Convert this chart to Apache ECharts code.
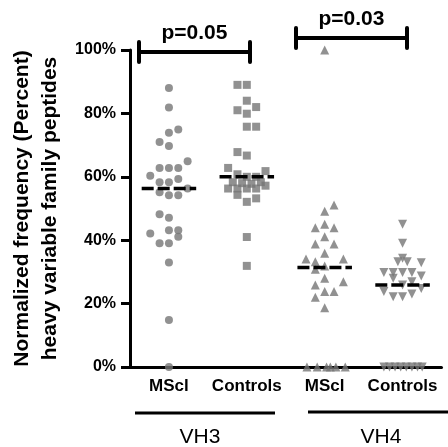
<!DOCTYPE html>
<html>
<head>
<meta charset="utf-8">
<script src="https://cdn.jsdelivr.net/npm/echarts@6/dist/echarts.min.js"></script>
<style>
  html, body { margin: 0; padding: 0; background: #fff; }
  #chart { width: 448px; height: 447px; }
</style>
</head>
<body>
<div id="chart"></div>
<script>
// x categories and the two families under them
const categories = ["MScl", "Controls", "MScl", "Controls"];
const families = ["VH3", "VH4"];
const pLabels = ["p=0.05", "p=0.03"];

// each point: [column in the swarm, percent]
const vh3MScl = [
  [0, 88.0], [0, 81.9], [0, 73.9], [1, 74.9], [-1, 71.0], [0, 69.7], [2, 64.9],
  [-1, 62.8], [0, 62.8], [1, 62.8], [-2, 60.3], [1, 59.3], [-1, 58.3], [0, 58.3],
  [-1, 55.1], [0, 54.2], [1, 54.2], [2, 56.3], [-1, 48.2], [0, 47.1], [-2, 42.1],
  [0, 43.1], [1, 43.1], [1, 41.1], [-1, 39.0], [0, 39.0], [0, 33.0], [0, 14.8], [0, 0]
];
const vh3Controls = [
  [-1, 89.0], [0, 89.0], [0, 84.0], [1, 82.0], [-1, 81.0], [0, 79.9], [0, 75.8], [1, 75.8],
  [-1, 67.8], [0, 66.7], [-2, 62.8], [2, 61.8], [-1, 60.8], [0, 60.0], [1, 60.0],
  [-1.5, 58.3], [-0.5, 58.0], [0.5, 57.8], [1.5, 58.3], [2, 57.2], [-2, 56.3], [-1, 56.3],
  [0, 56.3], [1, 56.3], [-1, 54.3], [1, 53.2], [0, 52.1], [0, 41.0], [0, 31.9]
];
const vh4MScl = [
  [0, 100], [1, 51.1], [0, 49.1], [-1, 43.9], [0, 45.0], [1, 43.9], [0, 41.1], [-1, 38.8],
  [1, 38.8], [0, 35.9], [-2, 34.1], [-1, 33.2], [2, 34.1], [0, 31.9], [-1, 30.8], [0, 28.0],
  [2, 26.9], [-1, 25.9], [0, 23.8], [1, 23.8], [-1, 22.0], [0, 18.7],
  [-1.9, 0], [-0.8, 0], [0.2, 0], [0.6, 0], [1.2, 0], [2.2, 0]
];
const vh4Controls = [
  [0, 45.0], [0, 39.0], [0, 34.3], [-0.5, 33.2], [0.5, 33.2], [2, 32.9], [-2, 29.8], [-1, 29.8],
  [0, 29.8], [1, 29.8], [2, 28.7], [-1, 28.0], [1, 26.9], [0, 25.9], [2, 24.8], [-2, 23.8],
  [-1, 22.2], [0, 22.2], [1, 23.0],
  [-2, 0], [-1.4, 0], [-0.8, 0], [-0.2, 0], [0.4, 0], [1, 0], [1.6, 0], [2.1, 0]
];

const COL = 0.12;       // width of one swarm column, in category units
const HALF = 0.35;      // half length of the median dash
const FONT = "Liberation Sans, Arial, sans-serif";
const GREY = "#767676";

function toPoints(list, idx) {
  return list.map(p => [idx + 0.5 + p[0] * COL, p[1]]);
}

function median(list) {
  const v = list.map(p => p[1]).sort((a, b) => a - b);
  const n = v.length;
  return n % 2 ? v[(n - 1) / 2] : (v[n / 2 - 1] + v[n / 2]) / 2;
}

const groups = [
  { data: vh3MScl, symbol: "circle", size: 8, rotate: 0 },
  { data: vh3Controls, symbol: "rect", size: 8, rotate: 0 },
  { data: vh4MScl, symbol: "triangle", size: 9, rotate: 0 },
  { data: vh4Controls, symbol: "triangle", size: 9, rotate: 180 }
];

const series = [];
groups.forEach((g, i) => {
  series.push({
    type: "scatter",
    xAxisIndex: 1,
    symbol: g.symbol,
    symbolSize: g.size,
    symbolRotate: g.rotate,
    itemStyle: { color: GREY },
    data: toPoints(g.data, i),
    z: 2
  });
});
groups.forEach((g, i) => {
  const m = median(g.data);
  series.push({
    type: "line",
    xAxisIndex: 1,
    symbol: "none",
    lineStyle: { color: "#000", width: 3.5, type: [12, 4] },
    data: [[i + 0.5 - HALF, m], [i + 0.5 + HALF, m]],
    z: 5
  });
});

// bracket with end caps and p value over it
function bracket(x1, x2, y, label, textY) {
  return [
    { type: "line", shape: { x1: x1, y1: y, x2: x2, y2: y }, style: { stroke: "#000", lineWidth: 4 } },
    { type: "line", shape: { x1: x1, y1: y - 10, x2: x1, y2: y + 10 }, style: { stroke: "#000", lineWidth: 4, lineCap: "round" } },
    { type: "line", shape: { x1: x2, y1: y - 10, x2: x2, y2: y + 10 }, style: { stroke: "#000", lineWidth: 4, lineCap: "round" } },
    { type: "text", x: (x1 + x2) / 2, y: textY, style: { text: label, font: "bold 21px " + FONT, fill: "#000", align: "center", verticalAlign: "middle" } }
  ];
}

const graphic = [].concat(
  bracket(139, 250, 52, pLabels[0], 33),
  bracket(296, 407, 38, pLabels[1], 19),
  [
    { type: "line", shape: { x1: 135, y1: 413, x2: 275, y2: 413 }, style: { stroke: "#000", lineWidth: 3 } },
    { type: "line", shape: { x1: 308, y1: 412, x2: 448, y2: 412 }, style: { stroke: "#000", lineWidth: 3 } },
    { type: "text", x: 200, y: 437, style: { text: families[0], font: "21px " + FONT, fill: "#000", align: "center", verticalAlign: "middle" } },
    { type: "text", x: 381, y: 437, style: { text: families[1], font: "21px " + FONT, fill: "#000", align: "center", verticalAlign: "middle" } }
  ]
);

const chart = echarts.init(document.getElementById("chart"));
chart.setOption({
  backgroundColor: "#fff",
  animation: false,
  grid: { left: 124.5, right: 6.5, top: 50, bottom: 80, containLabel: false },
  xAxis: [
    {
      type: "category",
      data: categories,
      axisLine: { lineStyle: { color: "#000", width: 3 } },
      axisTick: { alignWithLabel: true, length: 6, lineStyle: { color: "#000", width: 3 } },
      axisLabel: { interval: 0, color: "#000", fontSize: 17, fontWeight: "bold", fontFamily: FONT, margin: 11 }
    },
    { type: "value", min: 0, max: 4, show: false }
  ],
  yAxis: {
    type: "value",
    min: 0,
    max: 100,
    interval: 20,
    name: "Normalized frequency (Percent)\nheavy variable family peptides",
    nameLocation: "middle",
    nameRotate: 90,
    nameGap: 66,
    nameTextStyle: { color: "#000", fontSize: 21, fontWeight: "bold", fontFamily: FONT, lineHeight: 28 },
    axisLine: { show: true, lineStyle: { color: "#000", width: 3 } },
    axisTick: { show: true, length: 9, lineStyle: { color: "#000", width: 3 } },
    axisLabel: { formatter: "{value}%", color: "#000", fontSize: 16, fontWeight: "bold", fontFamily: FONT, margin: 14 },
    splitLine: { show: false }
  },
  series: series,
  graphic: graphic
});
</script>
</body>
</html>
